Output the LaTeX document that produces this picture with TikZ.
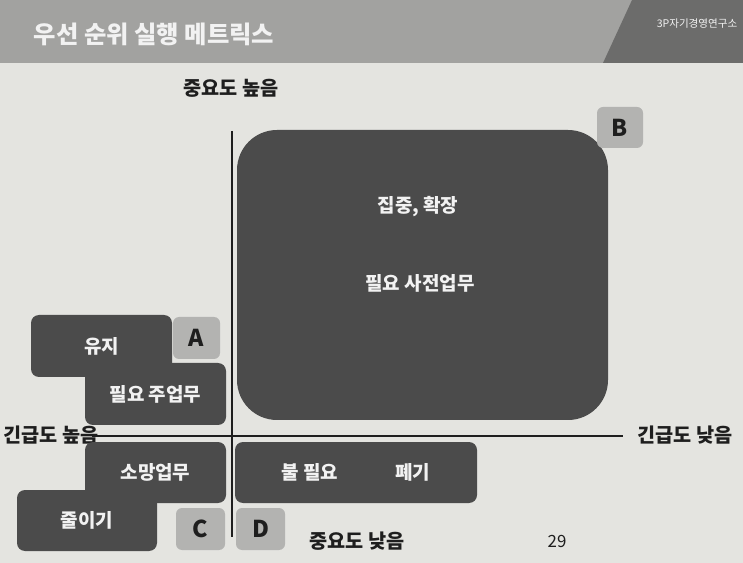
\documentclass[tikz,border=0pt]{standalone}
\usepackage{fontspec}
\setmainfont{Noto Sans CJK KR}
\definecolor{paper}{HTML}{E4E4E0}
\definecolor{bar-gray}{HTML}{A2A2A0}
\definecolor{bar-dark}{HTML}{6C6C6B}
\definecolor{box-dark}{HTML}{4B4B4B}
\definecolor{box-light}{HTML}{B3B3B1}
\definecolor{ink}{HTML}{1E1E1E}
\definecolor{box-ink}{HTML}{F2F2F2}
\tikzstyle{taskbox}=[fill=box-dark, rounded corners=2mm, inner sep=0pt, text=box-ink, font=\bfseries\fontsize{13.5}{15}\selectfont]
\tikzstyle{bigbox}=[fill=box-dark, rounded corners=1cm, inner sep=0pt]
\tikzstyle{letterbox}=[fill=box-light, rounded corners=1.5mm, inner sep=0pt, text=ink, font=\bfseries\fontsize{16.5}{18}\selectfont]
\tikzstyle{boxtext}=[text=box-ink, font=\bfseries\fontsize{13.5}{15}\selectfont]
\tikzstyle{axislabel}=[text=ink, inner sep=0pt, font=\bfseries\fontsize{14}{16}\selectfont]
\tikzstyle{axisline}=[ink, line width=1.4pt]
\newcommand{\cornerbox}[7][taskbox]{% Syntax: [style] {name} {center x} {center y} {width} {height} {text}
	\node[#1, minimum width=#5*0.025cm, minimum height=#6*0.025cm] (#2) at (#3,#4) {#7};
}

\begin{document}
\begin{tikzpicture}[x=0.025cm, y=-0.025cm]
	% paper and title bar
	\fill[paper] (0,0) rectangle (743,563);
	\useasboundingbox (0,0) rectangle (743,563);
	\fill[bar-gray] (0,0) rectangle (743,63);
	\fill[bar-dark] (603,63) -- (632,0) -- (743,0) -- (743,63) -- cycle;
	\node[text=box-ink, font=\bfseries\fontsize{17.3}{20}\selectfont] (title) at (154,34) {우선 순위 실행 메트릭스};
	\node[text=box-ink, font=\fontsize{7.5}{9}\selectfont] (logo) at (697,24) {3P자기경영연구소};
	% axes
	\coordinate (vTop) at (232,131);
	\coordinate (vBottom) at (232,537);
	\coordinate (hLeft) at (92,436);
	\coordinate (hRight) at (623,436);
	\draw[axisline] (vTop) -- (vBottom);
	\draw[axisline] (hLeft) -- (hRight);
	\node[axislabel] (impHigh) at (231,88) {중요도 높음};
	\node[axislabel] (impLow) at (357,541) {중요도 낮음};
	\node[axislabel] (urgHigh) at (51,435) {긴급도 높음};
	\node[axislabel] (urgLow) at (685,435) {긴급도 낮음};
	% A: urgent and important
	\cornerbox{keep}{101.5}{346}{141}{62}{유지}
	\cornerbox[letterbox]{boxA}{196.5}{338}{47}{42}{A}
	\cornerbox{mainWork}{155.5}{394}{141}{62}{필요 주업무}
	% B: important, not urgent
	\cornerbox[bigbox]{focus}{422.5}{275}{371}{290}{}
	\cornerbox[letterbox]{boxB}{620}{127.5}{46}{41}{B}
	\node[boxtext] (focusTop) at (418,207) {집중, 확장};
	\node[boxtext] (focusBottom) at (420,283) {필요 사전업무};
	% C: urgent, not important
	\cornerbox{wish}{155.5}{472.5}{141}{61}{소망업무}
	\cornerbox{reduce}{87}{520.5}{140}{61}{줄이기}
	\cornerbox[letterbox]{boxC}{200.5}{529}{49}{42}{C}
	% D: neither
	\cornerbox{drop}{356}{472.5}{242}{61}{불 필요\hspace{3em}폐기}
	\cornerbox[letterbox]{boxD}{260.5}{529}{49}{42}{D}
	% page number
	\node[text=ink, font=\fontsize{12}{14}\selectfont] (page) at (557,541) {29};
\end{tikzpicture}
\end{document}
